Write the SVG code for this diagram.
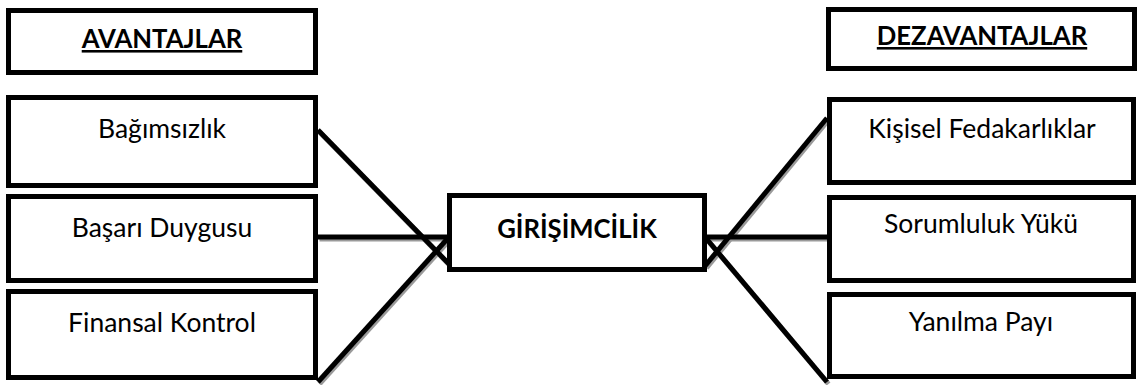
<svg xmlns="http://www.w3.org/2000/svg" width="1140" height="385" viewBox="0 0 1140 385">
<style>
.box{fill:#fff;stroke:#000;stroke-width:5}
.t{font-family:Lato,"Open Sans","Liberation Sans",sans-serif;font-size:26.5px;fill:#000;text-anchor:middle}
.h{font-weight:bold;text-decoration:underline;font-size:25.7px}
.c{font-weight:bold;font-size:25.7px}
.ln{stroke:#000;stroke-width:5;fill:none}
.sh{stroke:#9a9a9a;stroke-width:5;fill:none}
</style>
<rect width="1140" height="385" fill="#fff"/>
<g id="connectors">
<g transform="translate(1.5,2)">
<line class="sh" x1="318" y1="130" x2="449" y2="264"/>
<line class="sh" x1="318" y1="237" x2="449" y2="237"/>
<line class="sh" x1="318" y1="382" x2="449" y2="237"/>
<line class="sh" x1="827" y1="118" x2="705" y2="266"/>
<line class="sh" x1="705" y1="237" x2="827" y2="237"/>
<line class="sh" x1="705" y1="237" x2="827" y2="382"/>
</g>
<line class="ln" x1="318" y1="130" x2="449" y2="264"/>
<line class="ln" x1="318" y1="237" x2="449" y2="237"/>
<line class="ln" x1="318" y1="382" x2="449" y2="237"/>
<line class="ln" x1="827" y1="118" x2="705" y2="266"/>
<line class="ln" x1="705" y1="237" x2="827" y2="237"/>
<line class="ln" x1="705" y1="237" x2="827" y2="382"/>
</g>
<g id="avantajlar"><rect class="box" x="8.5" y="10.5" width="307" height="62"/><text class="t h" x="162" y="48">AVANTAJLAR</text></g>
<g id="dezavantajlar"><rect class="box" x="828.5" y="9.5" width="306" height="59"/><text class="t h" x="982" y="45">DEZAVANTAJLAR</text></g>
<g id="bagimsizlik"><rect class="box" x="8.5" y="97.5" width="307" height="88"/><text class="t" x="162" y="138">Bağımsızlık</text></g>
<g id="basari"><rect class="box" x="8.5" y="196.5" width="307" height="84"/><text class="t" x="162" y="237">Başarı Duygusu</text></g>
<g id="finansal"><rect class="box" x="8.5" y="291.5" width="307" height="86"/><text class="t" x="162" y="332">Finansal Kontrol</text></g>
<g id="girisimcilik"><rect class="box" x="449.5" y="195.5" width="255" height="74"/><text class="t c" x="577" y="238">GİRİŞİMCİLİK</text></g>
<g id="kisisel"><rect class="box" x="829.5" y="99.5" width="304" height="83"/><text class="t" x="982" y="138">Kişisel Fedakarlıklar</text></g>
<g id="sorumluluk"><rect class="box" x="829.5" y="197.5" width="304" height="83"/><text class="t" x="981" y="233">Sorumluluk Yükü</text></g>
<g id="yanilma"><rect class="box" x="829.5" y="294.5" width="304" height="82"/><text class="t" x="981" y="331">Yanılma Payı</text></g>
</svg>
